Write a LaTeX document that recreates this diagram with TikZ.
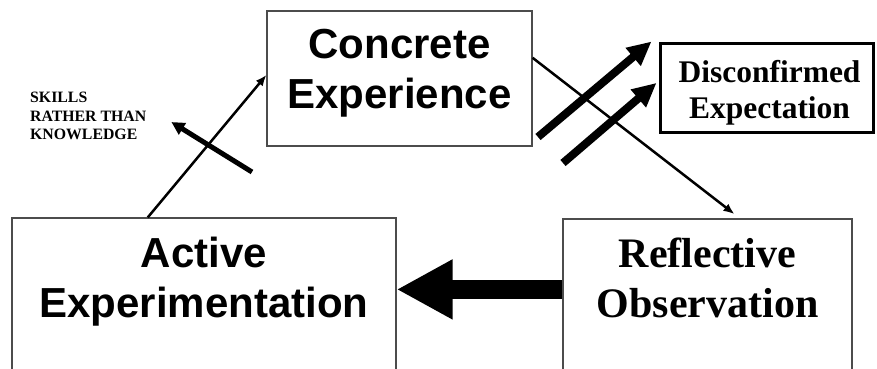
\documentclass[tikz,border=0pt]{standalone}
\usepackage{fontspec}
\setmainfont{Liberation Serif}
\setsansfont{Liberation Sans}
\usetikzlibrary{arrows.meta,calc}

\begin{document}
\begin{tikzpicture}[x=1pt,y=-1pt]

% --- Styles for the learning cycle ---
\tikzset{
    stage/.style={draw=black!70, line width=1.2pt, inner sep=0pt},
    stagesans/.style={font=\sffamily\bfseries\fontsize{42}{50}\selectfont, align=center, inner sep=0pt, anchor=north},
    stageserif/.style={font=\bfseries\fontsize{42}{50}\selectfont, align=center, inner sep=0pt, anchor=north},
    trigger/.style={draw=black, line width=3pt, inner sep=0pt},
    triggertext/.style={font=\bfseries\fontsize{31.5}{36}\selectfont, align=center, inner sep=0pt},
    note/.style={font=\bfseries\fontsize{15.8}{18.5}\selectfont, align=left, inner sep=0pt, anchor=north west},
    flow/.style={-{Latex[length=11pt,width=9pt]}, line width=2.5pt},
    push/.style={-{Triangle[length=24pt,width=22pt]}, line width=8pt},
    aside/.style={-{Triangle[length=13pt,width=13pt]}, line width=5pt},
    bigflow/.style={-{Triangle[length=56pt,width=56pt]}, line width=19pt}
}

    \clip (0,0) rectangle (877,368);

    % Stages
    \node[stage, minimum width=265pt, minimum height=135pt] (ce) at (399.5,78.5) {};
    \node[stagesans] (cetext) at ([yshift=-19pt]ce.north) {Concrete\\Experience};

    \node[stage, minimum width=384pt, minimum height=200pt] (ae) at (204,318) {};
    \node[stagesans] (aetext) at ([yshift=-19pt]ae.north) {Active\\Experimentation};

    \node[stage, minimum width=289pt, minimum height=200pt] (ro) at (707.5,319) {};
    \node[stageserif] (rotext) at ([yshift=-19pt]ro.north) {Reflective\\Observation};

    % Trigger and side note
    \node[trigger, minimum width=213pt, minimum height=89pt] (de) at (766.5,87.5) {};
    \node[triggertext] (detext) at ([xshift=3pt,yshift=-5pt]de.center) {Disconfirmed\\Expectation};
    \node[note] (skills) at (30,92) {SKILLS\\RATHER THAN\\KNOWLEDGE};

    % Cycle
    \draw[flow] ($(ae.north west)!0.354!(ae.north east)$) -- ($(ce.north west)!0.474!(ce.south west)$);
    \draw[flow, shorten >=7pt] ($(ce.north east)!0.348!(ce.south east)$) -- ($(ro.north west)!0.612!(ro.north east)$);
    \coordinate (rowest) at ($(ro.north west)+(0,71)$);
    \draw[bigflow] (rowest) -- (rowest -| ae.east);

    % Push towards the expectation
    \coordinate (pushA) at (538,137);
    \coordinate (pushB) at (563,163);
    \draw[push] (pushA) -- ($(de.north west)+(-7,0)$);
    \draw[push] (pushB) -- ($(de.north west)!0.45!(de.south west)+(-2,0)$);

    \coordinate (asideA) at (252,172);
    \draw[aside] (asideA) -- ($(skills.east)+(25,6)$);

\end{tikzpicture}
\end{document}
